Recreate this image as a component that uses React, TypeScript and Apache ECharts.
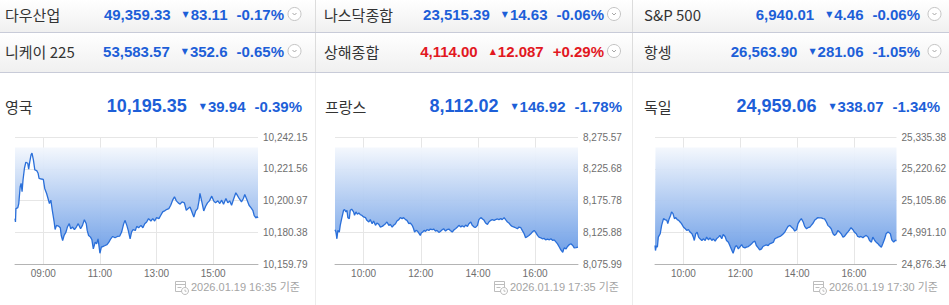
import React, { useEffect, useRef } from 'react';
import * as echarts from 'echarts';

const FONT = "'Liberation Sans', Arial, 'Noto Sans CJK KR', sans-serif";
const KFONT = "'Noto Sans CJK KR', 'Liberation Sans', sans-serif";
const DOWN = '#1d5fd8';
const UP = '#e2181f';

// ---- top ticker rows ----
const topNames = ['다우산업', '나스닥종합', 'S&P 500', '니케이 225', '상해종합', '항셍'];
const topValues = ['49,359.33', '23,515.39', '6,940.01', '53,583.57', '4,114.00', '26,563.90'];
const topChanges = ['83.11', '14.63', '4.46', '352.6', '12.087', '281.06'];
const topPercents = ['-0.17%', '-0.06%', '-0.06%', '-0.65%', '+0.29%', '-1.05%'];
const topUp = [false, false, false, false, true, false];

// ---- chart panels ----
const panelNames = ['영국', '프랑스', '독일'];
const panelValues = ['10,195.35', '8,112.02', '24,959.06'];
const panelChanges = ['39.94', '146.92', '338.07'];
const panelPercents = ['-0.39%', '-1.78%', '-1.34%'];
const panelStamps = ['2026.01.19 16:35 기준', '2026.01.19 17:35 기준', '2026.01.19 17:30 기준'];
const sessionStart = ['08:00', '09:00', '09:00'];
const sessionEnd = ['16:35', '17:30', '17:30'];
const timeTicks = [
  ['09:00', '11:00', '13:00', '15:00'],
  ['10:00', '12:00', '14:00', '16:00'],
  ['10:00', '12:00', '14:00', '16:00'],
];
const ukTicks = ['10,159.79', '10,180.38', '10,200.97', '10,221.56', '10,242.15'];
const frTicks = ['8,075.99', '8,125.88', '8,175.78', '8,225.68', '8,275.57'];
const deTicks = ['24,876.34', '24,991.10', '25,105.86', '25,220.62', '25,335.38'];

const ukTimes = ['08:00','08:01','08:02','08:06','08:08','08:11','08:13','08:15','08:17','08:20','08:23','08:27','08:29','08:31','08:34','08:36','08:39','08:42','08:46','08:49','08:51','08:56','09:00','09:03','09:07','09:10','09:13','09:16','09:19','09:23','09:25','09:28','09:32','09:36','09:38','09:41','09:44','09:48','09:51','09:55','09:58','10:02','10:06','10:10','10:14','10:19','10:23','10:27','10:31','10:33','10:36','10:40','10:43','10:46','10:50','10:53','10:56','11:00','11:03','11:06','11:11','11:15','11:19','11:23','11:27','11:32','11:37','11:42','11:46','11:50','11:53','11:57','12:00','12:04','12:07','12:10','12:15','12:18','12:22','12:27','12:31','12:35','12:39','12:43','12:48','12:52','12:56','13:00','13:05','13:09','13:13','13:17','13:21','13:26','13:30','13:34','13:38','13:42','13:46','13:50','13:54','13:59','14:03','14:07','14:11','14:15','14:19','14:23','14:27','14:30','14:32','14:36','14:40','14:44','14:48','14:52','14:57','15:01','15:05','15:10','15:14','15:18','15:22','15:27','15:31','15:35','15:39','15:43','15:48','15:51','15:55','16:00','16:04','16:07','16:12','16:16','16:20','16:24','16:27','16:31','16:33','16:35'];
const ukPrices = [10189.20,10187.02,10195.73,10196.39,10199.00,10209.90,10212.08,10206.63,10214.26,10221.88,10225.80,10225.15,10221.22,10225.58,10230.60,10231.69,10227.33,10220.79,10220.36,10218.61,10215.35,10214.91,10214.69,10208.81,10205.54,10202.27,10199.00,10201.18,10194.64,10187.02,10182.22,10184.84,10184.40,10183.31,10178.30,10175.03,10178.30,10180.48,10183.75,10185.93,10182.66,10183.75,10182.01,10183.75,10185.93,10182.66,10184.84,10188.54,10185.93,10181.57,10178.30,10177.21,10175.47,10169.59,10173.94,10172.86,10176.13,10166.75,10170.68,10171.11,10171.77,10172.30,10173.94,10176.13,10177.65,10176.78,10177.65,10177.90,10180.48,10185.49,10188.10,10184.84,10181.57,10176.13,10180.48,10182.01,10181.57,10184.19,10183.31,10184.84,10183.31,10185.93,10187.02,10189.20,10187.67,10189.20,10187.67,10189.85,10189.20,10191.38,10193.56,10194.21,10195.08,10195.73,10197.91,10201.18,10203.36,10200.74,10199.44,10198.57,10200.09,10199.44,10194.64,10195.73,10196.82,10193.56,10190.29,10194.21,10195.73,10200.74,10205.54,10200.09,10194.21,10197.26,10199.44,10200.74,10203.80,10200.74,10199.44,10200.74,10199.00,10201.18,10198.57,10202.27,10199.44,10200.74,10197.91,10201.62,10205.97,10204.45,10202.27,10200.09,10202.27,10204.88,10201.18,10197.91,10196.39,10194.64,10191.17,10189.64,10190.52,10189.64];

const frTimes = ['09:00','09:02','09:04','09:06','09:09','09:11','09:14','09:18','09:20','09:23','09:25','09:27','09:30','09:32','09:35','09:39','09:41','09:44','09:47','09:50','09:53','09:56','10:00','10:04','10:07','10:11','10:14','10:18','10:21','10:25','10:28','10:32','10:35','10:39','10:42','10:46','10:49','10:53','10:56','11:00','11:03','11:07','11:10','11:14','11:17','11:21','11:24','11:28','11:31','11:35','11:38','11:42','11:45','11:47','11:50','11:53','11:56','11:59','12:01','12:04','12:07','12:10','12:13','12:17','12:20','12:24','12:27','12:31','12:34','12:38','12:41','12:45','12:48','12:52','12:55','12:59','13:02','13:06','13:10','13:13','13:17','13:20','13:24','13:27','13:31','13:34','13:38','13:41','13:45','13:48','13:52','13:55','13:59','14:02','14:06','14:09','14:13','14:16','14:20','14:23','14:27','14:30','14:34','14:37','14:41','14:44','14:48','14:51','14:55','14:58','15:02','15:05','15:09','15:12','15:16','15:19','15:23','15:26','15:30','15:33','15:37','15:40','15:44','15:47','15:51','15:54','15:58','16:01','16:05','16:08','16:12','16:15','16:19','16:22','16:26','16:30','16:33','16:37','16:40','16:44','16:47','16:51','16:54','16:58','17:01','17:05','17:08','17:12','17:15','17:19','17:22','17:26','17:30'];
const frPrices = [8129.85,8126.15,8115.59,8128.79,8126.15,8136.71,8147.27,8160.47,8161.53,8157.83,8160.47,8148.85,8147.27,8160.47,8162.05,8157.83,8152.55,8157.83,8154.13,8156.25,8153.61,8152.55,8149.91,8148.85,8144.63,8141.99,8145.69,8139.35,8143.57,8136.71,8140.41,8138.29,8134.07,8135.13,8136.71,8139.35,8141.99,8136.71,8138.29,8134.07,8136.71,8139.35,8143.57,8145.69,8148.85,8147.27,8148.85,8145.69,8144.63,8139.35,8140.41,8136.71,8131.43,8126.15,8128.79,8127.73,8124.57,8120.87,8124.57,8126.15,8128.79,8127.21,8129.85,8128.79,8130.90,8129.85,8130.90,8127.73,8128.79,8125.62,8127.21,8129.85,8131.43,8127.73,8129.85,8130.90,8128.79,8126.15,8129.85,8131.43,8134.07,8136.71,8134.07,8136.18,8134.07,8137.24,8135.13,8139.35,8141.99,8136.71,8134.07,8133.50,8136.71,8145.69,8148.85,8147.27,8144.63,8140.41,8138.29,8141.99,8144.63,8145.69,8144.63,8145.69,8146.74,8145.69,8147.27,8145.69,8148.85,8145.69,8141.99,8140.41,8136.71,8135.13,8134.07,8133.01,8131.43,8134.07,8133.01,8128.79,8123.51,8117.17,8119.29,8120.87,8123.51,8126.15,8128.79,8126.15,8120.87,8118.23,8117.17,8115.59,8116.10,8114.01,8115.07,8114.01,8115.59,8112.95,8114.01,8110.31,8107.67,8102.39,8098.17,8094.47,8101.33,8099.75,8103.45,8106.61,8107.67,8105.03,8101.33,8101.80,8102.39];

const deTimes = ['09:00','09:01','09:03','09:05','09:07','09:11','09:14','09:18','09:21','09:25','09:27','09:30','09:33','09:35','09:38','09:41','09:44','09:47','09:50','09:53','09:56','10:00','10:04','10:07','10:11','10:14','10:18','10:21','10:23','10:26','10:29','10:32','10:35','10:39','10:42','10:46','10:49','10:53','10:56','11:00','11:03','11:07','11:10','11:14','11:17','11:21','11:24','11:28','11:31','11:35','11:38','11:42','11:45','11:49','11:52','11:56','11:59','12:03','12:06','12:10','12:13','12:17','12:20','12:24','12:27','12:31','12:34','12:38','12:41','12:45','12:48','12:52','12:55','12:59','13:02','13:06','13:10','13:13','13:17','13:20','13:24','13:27','13:31','13:34','13:38','13:41','13:45','13:48','13:52','13:55','13:59','14:02','14:06','14:09','14:13','14:16','14:20','14:23','14:27','14:30','14:34','14:37','14:41','14:44','14:48','14:51','14:55','14:58','15:02','15:05','15:09','15:12','15:16','15:19','15:23','15:26','15:30','15:33','15:37','15:40','15:44','15:47','15:51','15:54','15:58','16:01','16:05','16:08','16:12','16:15','16:19','16:22','16:26','16:30','16:33','16:37','16:40','16:44','16:47','16:51','16:54','16:58','17:01','17:05','17:08','17:12','17:15','17:17','17:20','17:24','17:27','17:30'];
const dePrices = [24943.13,24924.92,24943.13,24937.06,24973.49,24985.64,25016.00,25040.28,25036.64,25034.21,25022.07,25040.28,25052.43,25064.57,25058.50,25040.28,25043.93,25036.64,25034.21,25028.14,25022.07,25009.92,25003.85,24997.78,25000.21,24991.71,24985.64,24973.49,24961.35,24985.64,24991.71,24973.49,24967.42,24961.35,24967.42,24961.35,24973.49,24963.78,24971.06,24961.35,24967.42,24958.92,24967.42,24973.49,24979.56,24967.42,24983.21,24975.92,24961.35,24955.28,24943.13,24927.34,24915.20,24937.06,24943.13,24930.99,24937.06,24946.78,24937.06,24934.63,24937.06,24939.49,24943.13,24949.20,24955.28,24958.92,24943.13,24934.63,24927.34,24930.99,24939.49,24943.13,24945.56,24943.13,24949.20,24951.63,24955.28,24967.42,24971.06,24973.49,24975.92,24979.56,24985.64,24991.71,25003.85,25012.35,25016.00,25009.92,25003.85,24995.35,25000.21,25022.07,25034.21,25040.28,25028.14,25012.35,25003.85,25007.49,25009.92,25016.00,25024.50,25034.21,25040.28,25043.93,25043.20,25042.71,25040.28,25039.60,25028.14,25016.00,25009.92,25003.85,24985.64,24979.56,24985.64,24997.78,24991.71,24985.64,24973.49,24975.92,24985.64,24991.71,25000.21,25007.49,25000.21,24991.71,24985.64,24975.92,24973.49,24975.92,24971.06,24975.92,24979.56,24973.49,24961.35,24955.28,24973.49,24961.35,24955.28,24949.20,24943.13,24937.06,24949.20,24967.42,24985.64,24991.71,24988.06,24985.64,24963.78,24955.28,24961.35,24961.35];

const panelTimes = [ukTimes, frTimes, deTimes];
const panelPrices = [ukPrices, frPrices, dePrices];
const panelTicks = [ukTicks, frTicks, deTicks];

// layout constants
const GRID_LEFT = [15, 335, 655];
const GRID_TOP = 137;
const GRID_W = 243;
const GRID_H = 127;
const PANEL_X = [5, 325, 644];
const PANEL_RIGHT = [302, 622, 940];
const STAMP_X = [191, 510, 829];
const TOP_NAME_X = [5, 324, 644];
const TOP_RIGHT = [284, 604, 920];
const TOP_CIRCLE = [294.5, 614, 934.5];
const ROW_Y = [14, 51];

const num = (s: string) => parseFloat(s.replace(/,/g, ''));

function minuteLabels(start: string, end: string): string[] {
  const toMin = (s: string) => {
    const [h, m] = s.split(':').map(Number);
    return h * 60 + m;
  };
  const out: string[] = [];
  for (let t = toMin(start); t <= toMin(end); t++) {
    out.push(String(Math.floor(t / 60)).padStart(2, '0') + ':' + String(t % 60).padStart(2, '0'));
  }
  return out;
}

function changeRich(value: string, change: string, pct: string, up: boolean, big: boolean) {
  const c = up ? UP : DOWN;
  return {
    text: `{v|${value}}{t|${up ? '▲' : '▼'}}{c|${change}}{p|${pct}}`,
    rich: {
      v: { fill: c, fontSize: big ? 18 : 15, fontWeight: 'bold', fontFamily: FONT, padding: [0, big ? 13 : 12, 0, 0] },
      t: { fill: c, fontSize: 8, fontFamily: "'DejaVu Sans', sans-serif", padding: [0, 2, 0, 0] },
      c: { fill: c, fontSize: 15, fontWeight: 'bold', fontFamily: FONT, padding: [0, 9, 0, 0] },
      p: { fill: c, fontSize: 15, fontWeight: 'bold', fontFamily: FONT },
    },
  };
}

export default function App() {
  const ref = useRef<HTMLDivElement>(null);

  useEffect(() => {
    if (!ref.current) return;
    const chart = echarts.init(ref.current, undefined, { renderer: 'svg' });

    const graphics: any[] = [];
    // top rows background
    graphics.push({
      type: 'rect', shape: { x: 0, y: 0, width: 949, height: 32 },
      style: { fill: new echarts.graphic.LinearGradient(0, 0, 0, 1, [{ offset: 0, color: '#ffffff' }, { offset: 1, color: '#f0f0f0' }]) },
      silent: true, z: 0,
    });
    graphics.push({
      type: 'rect', shape: { x: 0, y: 33, width: 949, height: 39 },
      style: { fill: new echarts.graphic.LinearGradient(0, 0, 0, 1, [{ offset: 0, color: '#ffffff' }, { offset: 1, color: '#f0f0f0' }]) },
      silent: true, z: 0,
    });
    graphics.push({ type: 'line', shape: { x1: 0, y1: 32.5, x2: 949, y2: 32.5 }, style: { stroke: '#c8cbd8', lineWidth: 1 }, silent: true });
    graphics.push({ type: 'line', shape: { x1: 0, y1: 72.5, x2: 949, y2: 72.5 }, style: { stroke: '#c8cbd8', lineWidth: 1 }, silent: true });
    // vertical separators
    [315.5, 632.5].forEach((x) => {
      graphics.push({ type: 'line', shape: { x1: x, y1: 0, x2: x, y2: 32 }, style: { stroke: '#dcdcdc', lineWidth: 1 }, silent: true });
      graphics.push({ type: 'line', shape: { x1: x, y1: 33, x2: x, y2: 72 }, style: { stroke: '#dcdcdc', lineWidth: 1 }, silent: true });
      graphics.push({ type: 'line', shape: { x1: x, y1: 73, x2: x, y2: 305 }, style: { stroke: '#ececec', lineWidth: 1 }, silent: true });
    });

    // top ticker cells
    topNames.forEach((name, i) => {
      const col = i % 3;
      const row = Math.floor(i / 3);
      const y = ROW_Y[row];
      graphics.push({
        type: 'text', x: TOP_NAME_X[col], y, silent: true,
        style: { text: name, fill: '#333333', fontSize: 15, fontFamily: KFONT, align: 'left', verticalAlign: 'middle' },
      });
      const r = changeRich(topValues[i], topChanges[i], topPercents[i], topUp[i], false);
      graphics.push({
        type: 'text', x: TOP_RIGHT[col], y, silent: true,
        style: { ...r, align: 'right', verticalAlign: 'middle' },
      });
      const cx = TOP_CIRCLE[col];
      graphics.push({ type: 'circle', shape: { cx, cy: y, r: 6.5 }, style: { fill: '#ffffff', stroke: '#c4c4c4', lineWidth: 1 }, silent: true });
      graphics.push({
        type: 'polyline', shape: { points: [[cx - 2, y - 1], [cx, y + 1], [cx + 2, y - 1]] },
        style: { stroke: '#a8a8a8', lineWidth: 1, fill: null }, silent: true,
      });
    });

    // panel headers & footers
    panelNames.forEach((name, i) => {
      graphics.push({
        type: 'text', x: PANEL_X[i], y: 106, silent: true,
        style: { text: name, fill: '#333333', fontSize: 15, fontFamily: KFONT, align: 'left', verticalAlign: 'middle' },
      });
      const r = changeRich(panelValues[i], panelChanges[i], panelPercents[i], false, true);
      graphics.push({
        type: 'text', x: PANEL_RIGHT[i], y: 106, silent: true,
        style: { ...r, align: 'right', verticalAlign: 'middle' },
      });
      const sx = STAMP_X[i];
      graphics.push({
        type: 'text', x: sx, y: 287, silent: true,
        style: { text: panelStamps[i], fill: '#a4a4a4', fontSize: 11, fontFamily: FONT, align: 'left', verticalAlign: 'middle' },
      });
      // calendar/clock icon
      const ix = sx - 16;
      graphics.push({
        type: 'group', silent: true,
        children: [
          { type: 'rect', shape: { x: ix + 0.5, y: 281.5, width: 10, height: 10 }, style: { fill: null, stroke: '#bdbdbd', lineWidth: 1 } },
          { type: 'line', shape: { x1: ix + 0.5, y1: 284.5, x2: ix + 10.5, y2: 284.5 }, style: { stroke: '#bdbdbd', lineWidth: 1 } },
          { type: 'line', shape: { x1: ix + 2.5, y1: 287.5, x2: ix + 6.5, y2: 287.5 }, style: { stroke: '#bdbdbd', lineWidth: 1 } },
          { type: 'circle', shape: { cx: ix + 10, cy: 291, r: 3.5 }, style: { fill: '#ffffff', stroke: '#bdbdbd', lineWidth: 1 } },
          { type: 'polyline', shape: { points: [[ix + 10, 289.5], [ix + 10, 291.2], [ix + 11.5, 291.2]] }, style: { fill: null, stroke: '#bdbdbd', lineWidth: 1 } },
        ],
      });
    });

    const grids: any[] = [];
    const xAxes: any[] = [];
    const yAxes: any[] = [];
    const series: any[] = [];

    panelNames.forEach((_, i) => {
      const ticks = timeTicks[i];
      const yt = panelTicks[i];
      grids.push({ left: GRID_LEFT[i], top: GRID_TOP, width: GRID_W, height: GRID_H, containLabel: false });
      xAxes.push({
        type: 'category', gridIndex: i, data: minuteLabels(sessionStart[i], sessionEnd[i]), boundaryGap: false,
        axisLine: { show: true, lineStyle: { color: '#b4b4b4', width: 1 } },
        axisTick: { show: false },
        axisLabel: {
          interval: (_idx: number, v: string) => ticks.includes(v),
          color: '#6e6e6e', fontSize: 10, fontFamily: FONT, margin: 4,
        },
        splitLine: {
          show: true, interval: (_idx: number, v: string) => ticks.includes(v),
          lineStyle: { color: '#e6e6e6', width: 1 },
        },
      });
      yAxes.push({
        type: 'value', gridIndex: i, min: num(yt[0]), max: num(yt[yt.length - 1]), show: false,
        splitLine: { show: false },
      });
      yAxes.push({
        type: 'category', gridIndex: i, data: yt, boundaryGap: false, position: 'right',
        axisLine: { show: false }, axisTick: { show: false },
        axisLabel: { color: '#6e6e6e', fontSize: 10, fontFamily: FONT, margin: 5 },
        splitLine: { show: true, lineStyle: { color: '#e6e6e6', width: 1 } },
      });
      const prevClose = num(panelValues[i]) + num(panelChanges[i]);
      series.push({
        type: 'line', xAxisIndex: i, yAxisIndex: i * 2,
        data: panelTimes[i].map((t, k) => [t, panelPrices[i][k]]),
        showSymbol: false, symbol: 'none', silent: true,
        lineStyle: { color: '#2a6fd9', width: 1.3 },
        areaStyle: {
          origin: prevClose,
          opacity: 0.95,
          color: new echarts.graphic.LinearGradient(0, 0, 0, 1, [
            { offset: 0, color: '#f3f7fd' },
            { offset: 1, color: '#6a9ce6' },
          ]),
        },
      });
    });

    chart.setOption({
      animation: false,
      backgroundColor: '#ffffff',
      grid: grids,
      xAxis: xAxes,
      yAxis: yAxes,
      series,
      graphic: graphics,
    });

    return () => chart.dispose();
  }, []);

  return <div ref={ref} style={{ position: 'absolute', left: 0, top: 0, width: 949, height: 305 }} />;
}
